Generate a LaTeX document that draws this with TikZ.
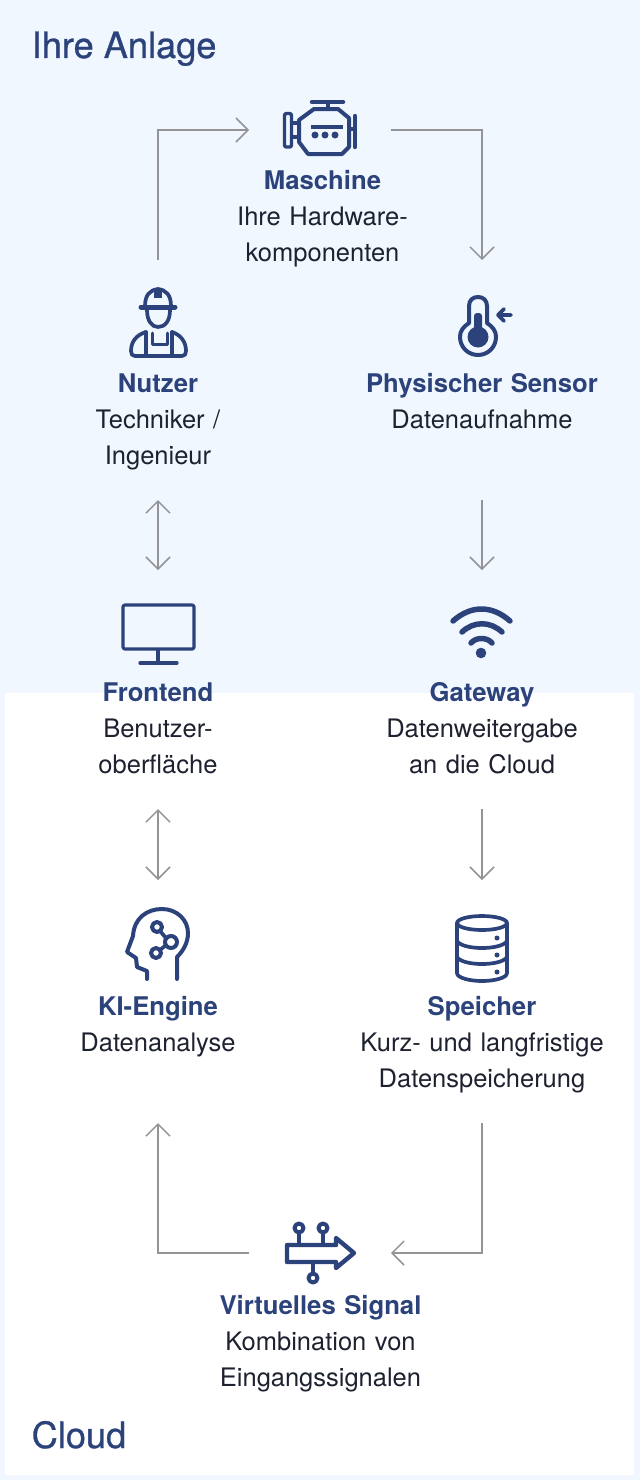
\documentclass[tikz,border=0pt]{standalone}
\usepackage{fontspec}
\setmainfont{TeX Gyre Heros}
\usetikzlibrary{arrows.meta}
\definecolor{skyback}{RGB}{240,247,255}
\definecolor{navy}{RGB}{44,66,122}
\definecolor{bodytext}{RGB}{30,34,48}
\definecolor{arrowgray}{RGB}{148,148,152}
\tikzstyle{iconbox} = [rectangle, minimum width=80pt, minimum height=130pt, inner sep=0pt, outer sep=0pt]
\tikzstyle{wideiconbox} = [iconbox, minimum width=142pt]
\tikzstyle{stationtext} = [anchor=north, inner sep=0pt, outer sep=0pt, text width=250pt, align=center, text height=27pt, text depth=108pt, text=bodytext, font=\fontsize{25.5}{36}\selectfont]
\tikzstyle{areatitle} = [anchor=base west, inner sep=0pt, text=navy, font=\fontsize{36.2}{40}\selectfont\addfontfeature{FakeBold=0.8}]
\tikzstyle{arrow} = [line width=1.5pt, draw=arrowgray, arrows={-Straight Barb[length=12pt,width=24pt]}]
\tikzstyle{biarrow} = [line width=1.5pt, draw=arrowgray, arrows={Straight Barb[length=12pt,width=24pt]-Straight Barb[length=12pt,width=24pt]}]
\tikzstyle{icon} = [draw=navy, line width=3.7pt, line join=round, line cap=round]
\newcommand{\ttl}[1]{\textcolor{navy}{\fontsize{25.7}{36}\selectfont\bfseries #1}}

\begin{document}
\begin{tikzpicture}[x=1pt,y=-1pt]
\useasboundingbox (0,0) rectangle (640,1480);
\fill[skyback] (0,0) rectangle (640,1480);
\fill[white] (5,693) rectangle (634,1475);
\node (anlagetitle) [areatitle] at (31.5,58) {Ihre Anlage};
\node (cloudtitle) [areatitle] at (31.5,1448) {Cloud};

\node (maschine) [wideiconbox] at (320,130) {};
\node (nutzer) [iconbox] at (158,325) {};
\node (sensor) [iconbox] at (482,325) {};
\node (frontend) [iconbox] at (158,635) {};
\node (gateway) [iconbox] at (482,635) {};
\node (engine) [iconbox] at (158,945) {};
\node (speicher) [iconbox] at (482,945) {};
\node (signal) [wideiconbox] at (320,1253) {};

\node (maschinetext) [stationtext] at (322.5,162) {\ttl{Maschine}\\Ihre Hardware-\\komponenten};
\node (nutzertext) [stationtext] at (158,365) {\ttl{Nutzer}\\Techniker /\\Ingenieur};
\node (sensortext) [stationtext] at (482,365) {\ttl{Physischer Sensor}\\Datenaufnahme};
\node (frontendtext) [stationtext] at (158,674) {\ttl{Frontend}\\Benutzer-\\oberfläche};
\node (gatewaytext) [stationtext] at (482,674) {\ttl{Gateway}\\Datenweitergabe\\an die Cloud};
\node (enginetext) [stationtext] at (158,988) {\ttl{KI-Engine}\\Datenanalyse};
\node (speichertext) [stationtext] at (482,988) {\ttl{Speicher}\\Kurz- und langfristige\\Datenspeicherung};
\node (signaltext) [stationtext] at (320.5,1287) {\ttl{Virtuelles Signal}\\Kombination von\\Eingangssignalen};

\draw[arrow] (nutzer.north) |- (maschine.west);
\draw[arrow] (maschine.east) -| (sensor.north);
\draw[biarrow] (nutzertext.south) -- (frontend.north);
\draw[arrow] (sensortext.south) -- (gateway.north);
\draw[biarrow] (frontendtext.south) -- (engine.north);
\draw[arrow] (gatewaytext.south) -- (speicher.north);
\draw[arrow] (speichertext.south) |- (signal.east);
\draw[arrow] (signal.west) -| (enginetext.south);

\draw[icon, rounded corners=2pt, line width=3.4pt] (284.5,113.5) rectangle (291.5,147);
\draw[icon, line width=3.2pt] (292,123) -- (299,123) (292,137) -- (299,137);
\draw[icon, line width=4.4pt] (355,116) -- (355,147);
\draw[icon] (349,129) -- (355,129);
\draw[icon, line width=4.5pt] (312,102) -- (343,102);
\draw[icon] (328,102) -- (328,109);
\draw[icon, line width=4pt] (314,109) -- (338,109) -- (349,118) -- (349,147) -- (342,154) -- (308,154) -- (299,142) -- (299,120) -- cycle;
\draw[icon, line width=4pt, line cap=butt] (311,127) -- (343,127);
\fill[navy] (315,135) circle[radius=3.5pt] (325,135) circle[radius=3.5pt] (335,135) circle[radius=3.5pt];

\draw[icon] (145,306) .. controls (145,295) and (150,290) .. (158,289) .. controls (166,290) and (171,295) .. (171,306);
\draw[icon, line width=5pt] (141,307) -- (175,307);
\fill[navy] (154,289) rectangle (162,298);
\draw[icon] (147,310) .. controls (147,321) and (152,327) .. (158,327) .. controls (165,327) and (170,321) .. (170,310);
\draw[icon] (146,332) .. controls (136,335) and (131,342) .. (131,351) .. controls (131,354) and (132,356) .. (135,356) -- (182,356) .. controls (185,356) and (186,354) .. (186,351) .. controls (186,342) and (181,335) .. (172,332);
\draw[icon] (146,332) -- (146,356) (172,332) -- (172,356);
\draw[icon, line width=3pt] (152,333) -- (152,344) -- (167,344) -- (167,333);

\draw[icon, line width=4pt] (469,323) -- (469,306) .. controls (469,300) and (473,297) .. (478,297) .. controls (483,297) and (487,300) .. (487,306) -- (487,323) .. controls (493,327) and (496,331) .. (496,337) .. controls (496,347) and (488,355) .. (478,355) .. controls (468,355) and (460,347) .. (460,337) .. controls (460,331) and (463,327) .. (469,323) -- cycle;
\fill[navy, rounded corners=3pt] (474,313) rectangle (482,340);
\fill[navy] (478,337) circle[radius=10.5pt];
\draw[icon] (511,315) -- (498,315) (504,309) -- (498,315) -- (504,321);

\draw[icon, rounded corners=2pt, line width=3.2pt] (123,605) rectangle (194,649);
\draw[icon, line width=3.2pt] (158,650) -- (158,662);
\draw[icon, line width=3.2pt] (140,663) -- (177,663);

\draw[icon, line width=5.5pt] (453,621) .. controls (471,605) and (492,605) .. (510,621);
\draw[icon, line width=5.5pt] (462,632) .. controls (474,621) and (490,621) .. (502,632);
\draw[icon, line width=5.5pt] (471,643) .. controls (476,637) and (487,637) .. (492,643);
\fill[navy] (481,653) circle[radius=5.3pt];

\draw[icon, line width=4pt] (147,979) -- (147,971) -- (137,967) -- (136,958) -- (127,952) -- (133,936) .. controls (134,918) and (147,909) .. (162,909) .. controls (177,909) and (188,920) .. (188,933) .. controls (188,943) and (183,951) .. (177,957) -- (177,979);
\draw[icon, line width=4pt] (157,927) circle[radius=5pt] (171,942) circle[radius=6pt] (156,953) circle[radius=5pt];
\draw[icon] (160,931) -- (166,938) (166,945) -- (160,950);

\draw[icon] (482,923) ellipse[x radius=25pt,y radius=7pt];
\draw[icon] (457,923) -- (457,973) .. controls (457,978) and (470,981) .. (482,981) .. controls (494,981) and (507,978) .. (507,973) -- (507,923);
\draw[icon] (457,941) .. controls (460,946) and (472,948) .. (482,948) .. controls (492,948) and (504,946) .. (507,941);
\draw[icon] (457,957) .. controls (460,962) and (472,964) .. (482,964) .. controls (492,964) and (504,962) .. (507,957);
\fill[navy] (497,938) circle[radius=2.5pt] (497,955) circle[radius=2.5pt] (497,972) circle[radius=2.5pt];

\draw[icon, line width=4.4pt] (287,1245) -- (336,1245) -- (336,1238) -- (354,1253) -- (336,1268) -- (336,1262) -- (287,1262) -- cycle;
\draw[icon, line width=4pt] (299,1228) circle[radius=4.5pt] (323,1228) circle[radius=4.5pt] (313,1278) circle[radius=4.5pt];
\draw[icon] (299,1233) -- (299,1244) (323,1233) -- (323,1244) (313,1263) -- (313,1273);
\end{tikzpicture}
\end{document}
